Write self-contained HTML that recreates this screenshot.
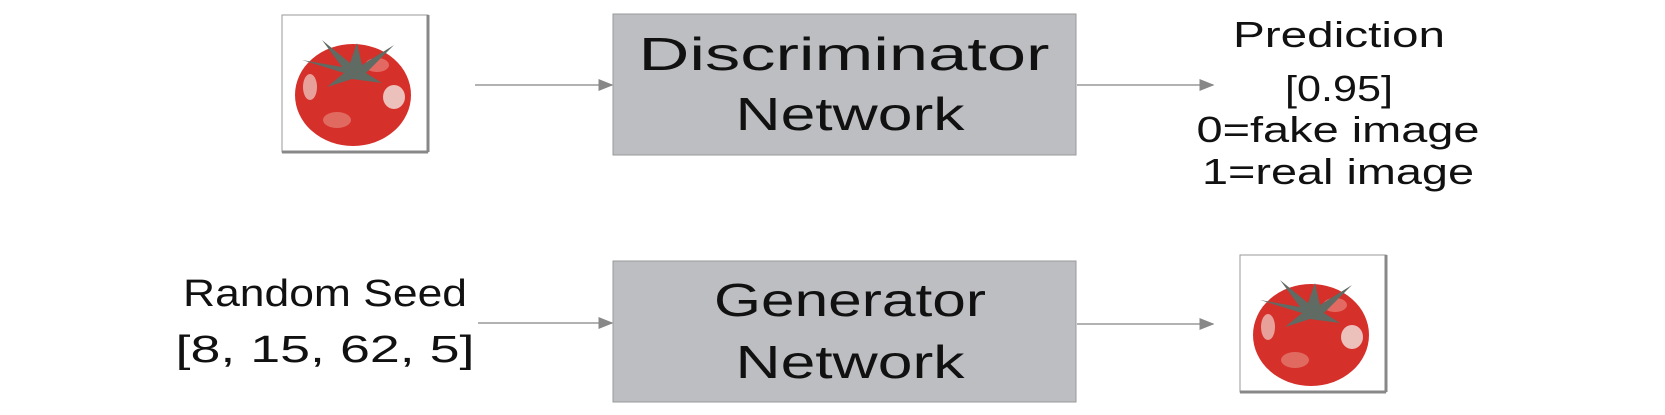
<!DOCTYPE html>
<html><head><meta charset="utf-8"><style>
html,body{margin:0;padding:0;background:#fff;}
svg{display:block;}
text{font-family:"Liberation Sans",sans-serif;fill:#111;}
</style></head><body>
<svg width="1665" height="415" viewBox="0 0 1665 415">
<defs>
<marker id="ah" markerWidth="10" markerHeight="8" refX="9" refY="4" orient="auto"><path d="M0,0 L10,4 L0,8 Z" fill="#888"/></marker>
<g id="tomato">
  <rect x="0" y="0" width="146" height="137" fill="#fff" stroke="#999" stroke-width="1"/>
  <line x1="146" y1="0" x2="146" y2="137" stroke="#888" stroke-width="3"/>
  <line x1="0" y1="137" x2="146" y2="137" stroke="#888" stroke-width="3"/>
  <ellipse cx="71" cy="80" rx="58" ry="51" fill="#d6302b"/>
  <ellipse cx="28" cy="72" rx="7" ry="13" fill="#e8a09a"/>
  <ellipse cx="112" cy="82" rx="11" ry="12" fill="#ecc0bb"/>
  <ellipse cx="55" cy="105" rx="14" ry="8" fill="#e06a60"/>
  <ellipse cx="95" cy="50" rx="12" ry="7" fill="#e26a62"/>
  <path d="M20,45 L60,52 L40,25 L68,48 L75,28 L80,50 L112,30 L84,58 L100,68 L70,64 L45,72 L62,58 Z" fill="#5f6b63"/>
</g>
</defs>

<use href="#tomato" x="282" y="15"/>
<line x1="475" y1="85" x2="612" y2="85" stroke="#999" stroke-width="1.5" marker-end="url(#ah)"/>

<g>
<rect x="613" y="14" width="463" height="141" fill="#bdbec1" stroke="#999" stroke-width="1"/>
<text x="844" y="70" font-size="46" text-anchor="middle" textLength="411" lengthAdjust="spacingAndGlyphs">Discriminator</text>
<text x="850" y="130" font-size="46" text-anchor="middle" textLength="229" lengthAdjust="spacingAndGlyphs">Network</text>
</g>
<line x1="1077" y1="85" x2="1213" y2="85" stroke="#999" stroke-width="1.5" marker-end="url(#ah)"/>

<g font-size="36">
<text x="1339" y="47" text-anchor="middle" textLength="212" lengthAdjust="spacingAndGlyphs">Prediction</text>
<text x="1339" y="101" text-anchor="middle" textLength="108" lengthAdjust="spacingAndGlyphs">[0.95]</text>
<text x="1338" y="142" text-anchor="middle" textLength="283" lengthAdjust="spacingAndGlyphs">0=fake image</text>
<text x="1338" y="184" text-anchor="middle" textLength="272" lengthAdjust="spacingAndGlyphs">1=real image</text>
</g>

<g font-size="38">
<text x="325" y="306" text-anchor="middle" textLength="284" lengthAdjust="spacingAndGlyphs">Random Seed</text>
<text x="325" y="362" text-anchor="middle" textLength="299" lengthAdjust="spacingAndGlyphs">[8, 15, 62, 5]</text>
</g>
<line x1="478" y1="323" x2="612" y2="323" stroke="#999" stroke-width="1.5" marker-end="url(#ah)"/>

<g>
<rect x="613" y="261" width="463" height="141" fill="#bdbec1" stroke="#999" stroke-width="1"/>
<text x="850" y="316" font-size="46" text-anchor="middle" textLength="272" lengthAdjust="spacingAndGlyphs">Generator</text>
<text x="850" y="378" font-size="46" text-anchor="middle" textLength="229" lengthAdjust="spacingAndGlyphs">Network</text>
</g>
<line x1="1077" y1="324" x2="1213" y2="324" stroke="#999" stroke-width="1.5" marker-end="url(#ah)"/>

<use href="#tomato" x="1240" y="255"/>
</svg>
</body></html>
